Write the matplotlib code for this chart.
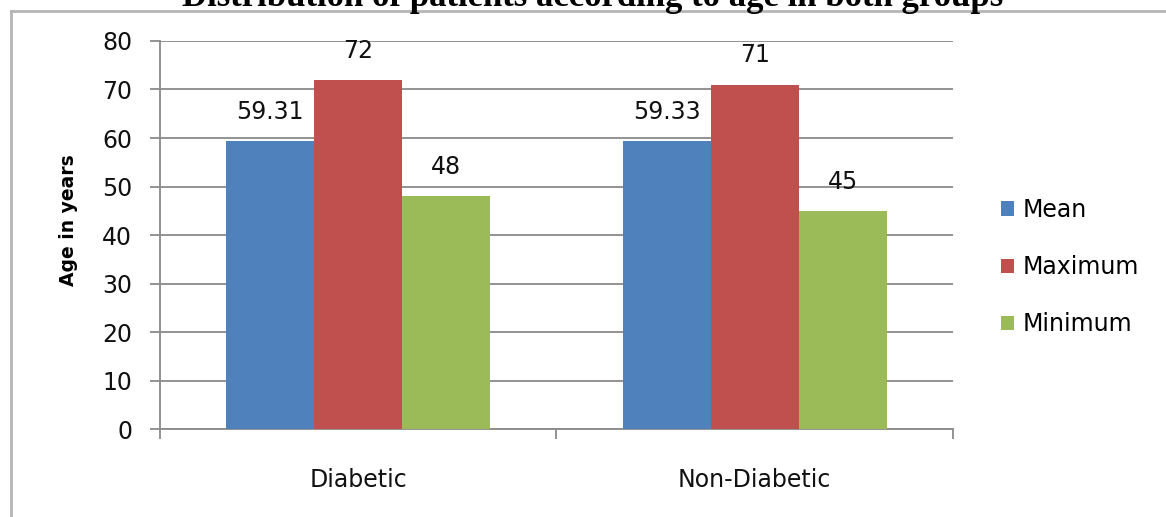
import numpy as np
import matplotlib.pyplot as plt
from matplotlib.lines import Line2D

groups = ['Diabetic', 'Non-Diabetic']
series = ['Mean', 'Maximum', 'Minimum']
mean_vals = [59.31, 59.33]
max_vals = [72, 71]
min_vals = [48, 45]
label_text = [['59.31', '59.33'], ['72', '71'], ['48', '45']]
colors = ['#4F81BD', '#C0504D', '#9BBB59']

fig = plt.figure(figsize=(11.66, 5.17), dpi=100)
ax = fig.add_axes([0.1372, 0.1702, 0.6801, 0.7505])

x = np.arange(len(groups))
w = 0.222
values = [mean_vals, max_vals, min_vals]
for i, (vals, name, col) in enumerate(zip(values, series, colors)):
    bars = ax.bar(x + (i - 1) * w, vals, w, color=col, label=name, zorder=3)
    for b, txt in zip(bars, label_text[i]):
        ax.annotate(txt, (b.get_x() + b.get_width() / 2, b.get_height()),
                    xytext=(0, 21), textcoords='offset points',
                    ha='center', va='center', fontsize=17, color='#111111')

ax.set_xlim(-0.5, 1.5)
ax.set_ylim(0, 80)
ax.set_yticks(range(0, 81, 10))
ax.yaxis.grid(True, color='#8a8a8a', linewidth=1.3, zorder=0)

# category boundary ticks + centered labels
ax.set_xticks([-0.5, 0.5, 1.5])
ax.set_xticklabels([])
ax.set_xticks(x, minor=True)
ax.set_xticklabels(groups, minor=True, fontsize=17, color='#111111')
ax.tick_params(axis='x', which='major', direction='out', length=7, width=1.3, color='#8a8a8a')
ax.tick_params(axis='x', which='minor', length=0, pad=28)
ax.tick_params(axis='y', direction='out', length=7, width=1.3, color='#8a8a8a',
               pad=13, labelsize=17, labelcolor='#111111')

for s in ['top', 'right']:
    ax.spines[s].set_visible(False)
for s in ['left', 'bottom']:
    ax.spines[s].set_color('#8a8a8a')
    ax.spines[s].set_linewidth(1.3)

ax.set_ylabel('Age in years', fontsize=13.5, fontweight='bold')
ax.yaxis.set_label_coords(-0.103, 0.539)

ax.legend(loc='center left', bbox_to_anchor=(0.840, 0.4836), bbox_transform=fig.transFigure,
          frameon=False, fontsize=17, handlelength=0.55, handleheight=0.55,
          handletextpad=0.4, labelspacing=1.4)

# chart frame lines (top and left of the box)
fig.add_artist(Line2D([11 / 1166, 1], [1 - 11 / 517, 1 - 11 / 517], color='#b5b5b5', linewidth=2))
fig.add_artist(Line2D([11 / 1166, 11 / 1166], [0, 1 - 11 / 517], color='#b5b5b5', linewidth=2))

fig.text(0.508, 1 - 6 / 517, 'Distribution of patients according to age in both groups',
         ha='center', va='baseline', fontsize=25, fontweight='bold',
         family='Liberation Serif', color='black')

plt.savefig('out.png', dpi=100)
